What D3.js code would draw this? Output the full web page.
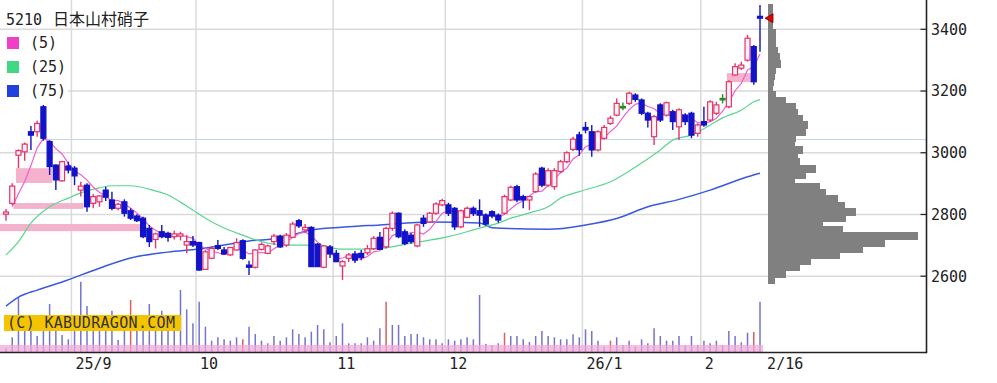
<!DOCTYPE html>
<html><head><meta charset="utf-8">
<script src="https://cdn.jsdelivr.net/npm/d3@7"></script>
<style>body{margin:0;background:#fff}svg{display:block}</style>
</head><body>
<svg id="c" width="997" height="383"></svg>
<script>
// ---------- DATA ----------
const title = "5210 日本山村硝子";
const openP = [2801,2836,2992,3003,3068,3068,3149,3036,2960,2909,2957,2950,2879,2895,2836,2841,2879,2847,2820,2841,
2812,2795,2788,2755,2719,2744,2739,2728,2730,2701,2712,2709,2622,2658,2699,2685,2669,2685,2715,2636,
2629,2687,2674,2712,2730,2701,2726,2780,2750,2758,2704,2629,2695,2674,2633,2658,2672,2674,2676,2689,
2726,2695,2755,2804,2744,2733,2698,2788,2776,2804,2831,2831,2820,2760,2791,2820,2812,2798,2809,2798,
2804,2847,2890,2858,2847,2874,2950,2895,2890,2939,2971,3011,3058,3082,3068,3009,3047,3095,3122,3150,
3160,3187,3171,3128,3052,3155,3122,3133,3084,3122,3128,3063,3101,3106,3128,3176,3149,3252,3274,3300,
3344,3442];
const highP = [2818,2901,3011,3033,3087,3104,3155,3041,2963,2974,2971,2957,2906,2901,2866,2863,2890,2874,2838,2849,
2820,2801,2793,2766,2741,2766,2744,2747,2744,2733,2730,2712,2685,2698,2717,2695,2695,2723,2720,2650,
2687,2709,2703,2737,2734,2740,2776,2785,2769,2762,2707,2701,2701,2685,2652,2675,2682,2685,2701,2730,
2743,2760,2810,2807,2752,2740,2770,2798,2808,2840,2851,2838,2824,2816,2826,2826,2849,2803,2814,2803,
2864,2893,2896,2864,2860,2937,2955,2950,2950,2977,3005,3052,3068,3100,3090,3073,3090,3120,3176,3163,
3198,3193,3176,3133,3122,3160,3166,3139,3144,3128,3133,3095,3149,3170,3165,3190,3235,3290,3295,3382,
3349,3479];
const lowP = [2780,2831,2950,2974,3009,3052,3039,2928,2879,2906,2933,2895,2858,2809,2820,2825,2844,2814,2814,2793,
2782,2776,2723,2695,2690,2723,2712,2719,2716,2674,2695,2618,2620,2655,2685,2669,2665,2683,2653,2604,
2625,2683,2671,2701,2691,2695,2724,2756,2741,2630,2630,2626,2659,2646,2588,2646,2643,2652,2669,2685,
2685,2690,2747,2723,2700,2705,2694,2760,2772,2799,2827,2795,2750,2755,2788,2795,2760,2765,2788,2773,
2800,2844,2840,2820,2814,2870,2888,2890,2880,2934,2966,3006,2990,3063,2987,3004,3043,3090,3118,3138,
3155,3165,3122,3082,3025,3100,3117,3074,3041,3090,3047,3052,3084,3100,3122,3160,3144,3250,3268,3295,
3220,3327];
const closeP = [2808,2892,3007,3028,3057,3095,3047,2955,2912,2971,2944,2925,2892,2825,2858,2860,2856,2820,2833,2804,
2788,2780,2728,2712,2737,2728,2726,2737,2737,2712,2701,2620,2679,2690,2690,2672,2693,2709,2658,2629,
2685,2703,2698,2730,2695,2733,2769,2763,2758,2631,2631,2698,2672,2647,2647,2669,2652,2661,2689,2723,
2687,2755,2804,2728,2706,2712,2766,2771,2804,2834,2845,2804,2760,2812,2820,2804,2798,2769,2795,2782,
2858,2888,2847,2847,2858,2931,2895,2942,2942,2971,3000,3044,3010,3074,3009,3068,3082,3112,3160,3150,
3193,3173,3128,3106,3117,3106,3162,3101,3139,3101,3057,3090,3090,3165,3155,3176,3230,3279,3284,3371,
3230,3436];
const unchangedIdx = [99, 115];              // green candles
const priorCloses = [2780, 2795, 2830, 2800]; // closes before the first visible day (for MA5)
const volume = [37,147,547,303,303,160,287,480,303,170, 127,287,703,460,303,303,303,413,120,303,
520,303,303,480,303,413,303,303,620,427, 287,503,253,113,147,127,113,147,127,253,
180,113,87,160,113,147,227,180,147,203, 270,227,97,160,287,87,87,87,147,113,
237,503,270,270,160,180,180,147,127,127, 87,127,113,127,147,127,570,80,70,87,
193,160,160,127,100,160,210,160,147,127, 127,177,147,227,210,113,53,113,147,70,
113,53,127,87,237,160,113,113,160,70, 160,70,113,87,113,70,210,160,97,193, 200,503];
const redVolumeIdx = [20, 38, 61, 80, 97, 120];
const ma25 = [[0,2669],[2,2712],[4,2772],[7,2825],[10,2853],[12,2870],[15,2886],[17,2893],[20,2893],[23,2882],
[26,2863],[28,2840],[30,2814],[32,2788],[35,2756],[38,2733],[40,2718],[43,2704],[46,2701],[48,2701],[51,2695],
[54,2688],[57,2688],[60,2690],[65,2707],[71,2728],[76,2756],[79,2772],[81,2788],[84,2805],[87,2825],[89,2853],
[92,2874],[97,2906],[102,2967],[105,3009],[107,3041],[110,3057],[113,3090],[115,3113],[118,3138],[120,3165],[121,3172]];
const ma75 = [[0,2503],[2,2532],[5,2555],[9,2581],[15,2626],[20,2659],[26,2678],[31,2688],[39,2714],[44,2724],
[49,2750],[55,2760],[60,2766],[68,2776],[76,2772],[78,2757],[87,2752],[93,2766],[98,2787],[103,2825],[108,2849],
[113,2879],[119,2922],[121,2934]];
const gapBands = [[-1,21.5,2746,2769],[1.2,12.4,2818,2837],[1.6,7.4,2902,2950],[115.7,120,3229,3258]];
const refLine = {from: 6, price: 3043};
const monthStartIdx = [11, 31, 53, 71, 93, 112, 122];
const monthLabels = ["25/9","10","11","12","26/1","2","2/16"];
const priceTicks = [2600, 2800, 3000, 3200, 3400];
const profilePrice = [3470,3450,3430,3410,3390,3370,3350,3330,3310,3290,3270,3250,3230,3210,3190,3170,3150,3130,3110,3090,
3070,3050,3030,3010,2990,2970,2950,2930,2910,2890,2870,2850,2830,2810,2790,2770,2750,2730,2710,2690,2670,2650,2630,2610,2590];
const profileVol = [5,5,5,5,8,8,8,10,12,13,8,7,6,5,8,18,28,30,35,40,
38,28,27,35,30,32,48,38,27,52,58,70,77,88,78,55,75,150,117,95,72,43,32,18,7];
const legendItems = [["(5)","#f040c8"],["(25)","#40d880"],["(75)","#2040e0"]];
const watermark = "(C) KABUDRAGON.COM";

// ---------- CHART ----------
const svg = d3.select("#c");
const N = closeP.length;
const x = d3.scaleLinear().domain([0, 121]).range([6, 760]);
const step = x(1) - x(0);
const y = d3.scaleLinear().domain([2600, 3400]).range([276.2, 29.3]);
const plotR = 926.5, plotB = 352.5;
const vy = d3.scaleLinear().domain([0, 1000]).range([352, 252]);
const px = d3.scaleLinear().domain([0, 155]).range([768, 923]);
const mono = "'DejaVu Sans Mono', monospace";

// grid
svg.append("g").selectAll("line").data(priceTicks).join("line")
  .attr("x1", 0).attr("x2", plotR).attr("y1", d => y(d)).attr("y2", d => y(d))
  .attr("stroke", "#dadada").attr("stroke-width", 1.5);
svg.append("g").selectAll("line").data(monthStartIdx.slice(0, -1)).join("line")
  .attr("x1", d => x(d) - step / 2).attr("x2", d => x(d) - step / 2).attr("y1", 0).attr("y2", plotB)
  .attr("stroke", "#dadada").attr("stroke-width", 1.5);

// reference line
svg.append("line").attr("x1", x(refLine.from)).attr("x2", plotR)
  .attr("y1", y(refLine.price)).attr("y2", y(refLine.price))
  .attr("stroke", "#c4d6ec").attr("stroke-width", 1.2);

// gap bands
svg.append("g").selectAll("rect").data(gapBands).join("rect")
  .attr("x", d => Math.max(0, x(d[0]))).attr("width", d => x(d[1]) - Math.max(0, x(d[0])))
  .attr("y", d => y(d[3])).attr("height", d => y(d[2]) - y(d[3]))
  .attr("fill", "#f4b2cc");

// volume
svg.append("g").selectAll("line").data(volume).join("line")
  .attr("x1", (d, i) => x(i)).attr("x2", (d, i) => x(i))
  .attr("y1", vy(0)).attr("y2", d => vy(d))
  .attr("stroke", (d, i) => redVolumeIdx.includes(i) ? "#d86060" : "#7474cc")
  .attr("stroke-width", 1.5);
svg.append("rect").attr("x", 0).attr("width", x(N - 1) + 3).attr("y", 345).attr("height", 7)
  .attr("fill", "#f2a8d8").attr("opacity", 0.75);

// moving averages
const allC = priorCloses.concat(closeP);
const ma5 = closeP.map((c, i) => [i, d3.mean(allC.slice(i, i + 5))]).slice(1);
const line = d3.line().x(d => x(d[0])).y(d => y(d[1])).curve(d3.curveMonotoneX);
svg.append("path").attr("d", line(ma75)).attr("fill", "none").attr("stroke", "#3a58e0").attr("stroke-width", 1.5);
svg.append("path").attr("d", line(ma25)).attr("fill", "none").attr("stroke", "#5ad690").attr("stroke-width", 1.2);
svg.append("path").attr("d", d3.line().x(d => x(d[0])).y(d => y(d[1]))(ma5)).attr("fill", "none").attr("stroke", "#f060d0").attr("stroke-width", 1.2);

// candles
const candles = svg.append("g").selectAll("g").data(d3.range(N)).join("g");
const colr = i => unchangedIdx.includes(i) ? "#2a8a2a" : (closeP[i] >= openP[i] ? "#e4346a" : "#1212c8");
candles.append("line")
  .attr("x1", i => x(i)).attr("x2", i => x(i))
  .attr("y1", i => y(highP[i])).attr("y2", i => y(lowP[i]))
  .attr("stroke", colr).attr("stroke-width", 1.4);
candles.append("rect")
  .attr("x", i => x(i) - 2.5).attr("width", 5)
  .attr("y", i => y(Math.max(openP[i], closeP[i])))
  .attr("height", i => Math.max(1.5, Math.abs(y(openP[i]) - y(closeP[i]))))
  .attr("fill", i => unchangedIdx.includes(i) ? "#2a8a2a" : (closeP[i] >= openP[i] ? "#fff2f6" : "#1212c8"))
  .attr("stroke", colr).attr("stroke-width", 1.2);

// price-by-volume profile
svg.append("g").attr("shape-rendering", "crispEdges").selectAll("rect").data(profilePrice).join("rect")
  .attr("x", px(0)).attr("width", (d, i) => px(profileVol[i]) - px(0))
  .attr("y", d => Math.floor(y(d + 10))).attr("height", d => Math.ceil(y(d - 10) - y(d + 10)) + 1)
  .attr("fill", "#808080");

// last price marker
const lp = closeP[N - 1], lx = x(N - 1) + 5;
svg.append("path")
  .attr("d", `M${lx},${y(lp)} L${lx + 8},${y(lp) - 4.5} L${lx + 8},${y(lp) + 4.5} Z`)
  .attr("fill", "#e00000").attr("stroke", "#700").attr("stroke-width", 0.8);

// axes
svg.append("line").attr("x1", 0).attr("x2", plotR).attr("y1", plotB).attr("y2", plotB)
  .attr("stroke", "#222").attr("stroke-width", 1.6);
svg.append("line").attr("x1", plotR).attr("x2", plotR).attr("y1", 0).attr("y2", plotB + 0.8)
  .attr("stroke", "#222").attr("stroke-width", 1.6);
const yAxis = svg.append("g");
yAxis.selectAll("line").data(priceTicks).join("line")
  .attr("x1", plotR - 6).attr("x2", plotR).attr("y1", d => y(d)).attr("y2", d => y(d))
  .attr("stroke", "#222").attr("stroke-width", 1.2);
yAxis.selectAll("text").data(priceTicks).join("text")
  .attr("x", 931).attr("y", d => y(d)).attr("dy", "0.36em")
  .attr("font-family", mono).attr("font-size", 15).attr("fill", "#222").text(d => d);
svg.append("g").selectAll("text").data(monthLabels).join("text")
  .attr("x", (d, i) => x(monthStartIdx[i]) - step / 2 + 4).attr("y", 369)
  .attr("font-family", mono).attr("font-size", 15).attr("fill", "#222").text(d => d);

// title & legend
const t = svg.append("text").attr("x", 6).attr("y", 25).attr("fill", "#222");
t.append("tspan").attr("font-family", mono).attr("font-size", 15).text(title.split(" ")[0] + " ");
t.append("tspan").attr("x", 53).attr("font-family", "'Noto Sans CJK JP', sans-serif").attr("font-size", 16).text(title.split(" ")[1]);
svg.append("rect").attr("x", 0).attr("y", 31).attr("width", 68).attr("height", 68).attr("fill", "#fff");
const lg = svg.append("g").selectAll("g").data(legendItems).join("g")
  .attr("transform", (d, i) => `translate(0,${37 + i * 24})`);
lg.append("rect").attr("x", 7).attr("y", 0).attr("width", 12).attr("height", 12).attr("fill", d => d[1]);
lg.append("text").attr("x", 30).attr("y", 11).attr("font-family", mono).attr("font-size", 15).attr("fill", "#222").text(d => d[0]);

// watermark
svg.append("rect").attr("x", 4).attr("y", 315).attr("width", 177).attr("height", 16).attr("fill", "#f5c400");
svg.append("text").attr("x", 7).attr("y", 328).attr("font-family", mono).attr("font-size", 15)
  .attr("textLength", 168).attr("lengthAdjust", "spacing").attr("fill", "#333").text(watermark);
</script>
</body></html>
